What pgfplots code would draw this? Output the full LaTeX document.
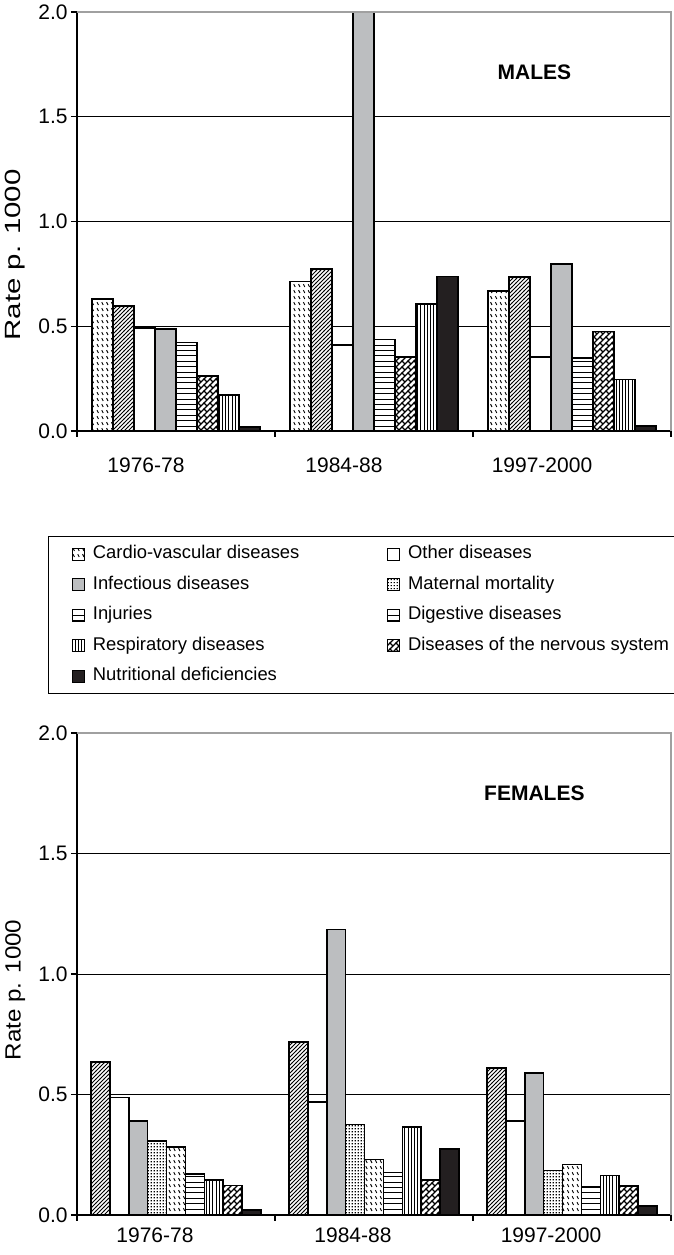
\documentclass[border=0pt]{standalone}
\usepackage{fontspec}
\setmainfont{Liberation Sans}
\usepackage{pgfplots}
\pgfplotsset{compat=1.18}
\usetikzlibrary{patterns}

\definecolor{infgrey}{RGB}{188,190,192}
\definecolor{nutblack}{RGB}{35,31,32}
\definecolor{framegrey}{RGB}{160,160,160}

% fill patterns of the bars
\pgfdeclarepatternformonly{cardiodash}{\pgfqpoint{-0.5pt}{-0.5pt}}{\pgfqpoint{3pt}{3.5pt}}{\pgfqpoint{2.4pt}{3pt}}{%
  \pgfsetlinewidth{0.45pt}%
  \pgfpathmoveto{\pgfqpoint{0.5pt}{2.4pt}}\pgfpathlineto{\pgfqpoint{1.2pt}{1.0pt}}%
  \pgfusepath{stroke}}
\pgfdeclarepatternformonly{hatchne}{\pgfqpoint{-1pt}{-1pt}}{\pgfqpoint{3pt}{3pt}}{\pgfqpoint{2pt}{2pt}}{%
  \pgfsetlinewidth{0.42pt}%
  \pgfpathmoveto{\pgfqpoint{-0.1pt}{-0.1pt}}\pgfpathlineto{\pgfqpoint{2.1pt}{2.1pt}}%
  \pgfusepath{stroke}}
\pgfdeclarepatternformonly{hlines}{\pgfqpoint{-1pt}{-1pt}}{\pgfqpoint{4pt}{4pt}}{\pgfqpoint{2.7pt}{2.7pt}}{%
  \pgfsetlinewidth{0.5pt}%
  \pgfpathmoveto{\pgfqpoint{-0.1pt}{1.35pt}}\pgfpathlineto{\pgfqpoint{2.8pt}{1.35pt}}%
  \pgfusepath{stroke}}
\pgfdeclarepatternformonly{vlines}{\pgfqpoint{-1pt}{-1pt}}{\pgfqpoint{3pt}{3pt}}{\pgfqpoint{1.6pt}{1.6pt}}{%
  \pgfsetlinewidth{0.4pt}%
  \pgfpathmoveto{\pgfqpoint{0.8pt}{-0.1pt}}\pgfpathlineto{\pgfqpoint{0.8pt}{1.7pt}}%
  \pgfusepath{stroke}}
\pgfdeclarepatternformonly{gridots}{\pgfqpoint{0pt}{0pt}}{\pgfqpoint{1.6pt}{1.6pt}}{\pgfqpoint{1.6pt}{1.6pt}}{%
  \pgfpathrectangle{\pgfqpoint{0.45pt}{0.45pt}}{\pgfqpoint{0.7pt}{0.7pt}}%
  \pgfusepath{fill}}
\pgfdeclarepatternformonly{brick}{\pgfqpoint{-1pt}{-1pt}}{\pgfqpoint{4pt}{4pt}}{\pgfqpoint{3pt}{3pt}}{%
  \pgfsetlinewidth{0.7pt}%
  \pgfpathmoveto{\pgfqpoint{-0.1pt}{-0.1pt}}\pgfpathlineto{\pgfqpoint{3.1pt}{3.1pt}}%
  \pgfpathmoveto{\pgfqpoint{-0.1pt}{3.1pt}}\pgfpathlineto{\pgfqpoint{1.2pt}{1.8pt}}%
  \pgfusepath{stroke}}

\pgfplotsset{
  st-cardio/.style={fill=white, postaction={pattern=cardiodash}},
  st-injur/.style={fill=white, postaction={pattern=hatchne}},
  st-other/.style={fill=white},
  st-infect/.style={fill=infgrey},
  st-matern/.style={fill=white, postaction={pattern=gridots}},
  st-digest/.style={fill=white, postaction={pattern=hlines}},
  st-respir/.style={fill=white, postaction={pattern=vlines}},
  st-nerv/.style={fill=white, postaction={pattern=brick}},
  st-nutri/.style={fill=nutblack},
  rateaxis/.style={
    scale only axis, width=297pt,
    xmin=-0.5, xmax=2.5,
    ymin=0, ymax=2,
    ybar=0pt, clip=false,
    axis x line*=bottom, axis y line*=left,
    axis line style={line width=0.7pt, black},
    tick align=outside,
    major tick length=3pt,
    tick style={black, line width=0.6pt},
    xtick={-0.5,0.5,1.5,2.5}, xticklabels={,,,},
    extra x ticks={0,1,2},
    extra x tick labels={1976-78,1984-88,1997-2000},
    ytick={0,0.5,1,1.5,2},
    ymajorgrids, grid style={black, line width=0.5pt},
    yticklabel style={inner xsep=1.5pt, /pgf/number format/.cd, fixed, fixed zerofill, precision=1},
    /pgf/number format/assume math mode=true,
    tick label style={font=\fontsize{10.5}{12}\selectfont},
    label style={font=\fontsize{10.5}{12}\selectfont},
    every axis plot/.append style={draw=black, line width=0.8pt},
    after end axis/.code={
      \draw[framegrey, line width=0.7pt] (rel axis cs:0,1) -- (rel axis cs:1,1) -- (rel axis cs:1,0);
    },
  },
}

\begin{document}
\begin{tikzpicture}

% MALES
\begin{axis}[
    rateaxis,
    at={(38.5pt,412pt)}, anchor=south west,
    height=209.5pt,
    bar width=10.5pt,
    extra x tick style={tick style={draw=none}, xticklabel style={xshift=-15pt, yshift=-7pt}},
    ylabel={\scalebox{1.4}[1.05]{Rate p. 1000}},
    ylabel style={at={(axis description cs:-0.104,0.42)}, anchor=center},
  ]
  % Cardio-vascular
  \addplot[st-cardio] coordinates {(0,0.630) (1,0.713) (2,0.667)};
  % Injuries
  \addplot[st-injur] coordinates {(0,0.598) (1,0.772) (2,0.734)};
  % Other
  \addplot[st-other] coordinates {(0,0.493) (1,0.410) (2,0.353)};
  % Infectious
  \addplot[st-infect] coordinates {(0,0.488) (1,2.000) (2,0.796)};
  % Digestive
  \addplot[st-digest] coordinates {(0,0.423) (1,0.436) (2,0.347)};
  % Nervous system
  \addplot[st-nerv] coordinates {(0,0.263) (1,0.352) (2,0.474)};
  % Respiratory
  \addplot[st-respir] coordinates {(0,0.173) (1,0.605) (2,0.245)};
  % Nutritional
  \addplot[st-nutri] coordinates {(0,0.020) (1,0.738) (2,0.025)};
  \node[font=\bfseries\fontsize{10.5}{12}\selectfont] at (axis cs:1.81,1.71) {MALES};
\end{axis}

% FEMALES
\begin{axis}[
    rateaxis,
    at={(38.5pt,20pt)}, anchor=south west,
    height=241pt,
    bar width=9.45pt,
    extra x tick style={tick style={draw=none}, xticklabel style={xshift=-10.5pt, yshift=0pt}},
    ylabel={\scalebox{1.15}[1.05]{Rate p. 1000}},
    ylabel style={at={(axis description cs:-0.104,0.467)}, anchor=center},
  ]
  \addplot[st-injur] coordinates {(0,0.634) (1,0.717) (2,0.611)};
  \addplot[st-other] coordinates {(0,0.488) (1,0.470) (2,0.391)};
  \addplot[st-infect] coordinates {(0,0.391) (1,1.185) (2,0.588)};
  \addplot[st-matern] coordinates {(0,0.308) (1,0.375) (2,0.185)};
  \addplot[st-cardio] coordinates {(0,0.281) (1,0.231) (2,0.209)};
  \addplot[st-digest] coordinates {(0,0.169) (1,0.177) (2,0.119)};
  \addplot[st-respir] coordinates {(0,0.145) (1,0.365) (2,0.164)};
  \addplot[st-nerv] coordinates {(0,0.123) (1,0.144) (2,0.120)};
  \addplot[st-nutri] coordinates {(0,0.021) (1,0.275) (2,0.037)};
  \node[font=\bfseries\fontsize{10.5}{12}\selectfont] at (axis cs:1.81,1.75) {FEMALES};
\end{axis}

% shared legend
\begin{axis}[
    hide axis, scale only axis,
    width=10pt, height=10pt,
    xmin=0, xmax=1, ymin=0, ymax=1,
    at={(24pt,359.5pt)}, anchor=south west,
    legend columns=2,
    legend image code/.code={\draw[#1, line width=0.6pt] (0pt,-3pt) rectangle (6pt,3pt);},
    legend style={
      at={(0,0)}, anchor=north west,
      draw=black, line width=0.7pt,
      inner xsep=11.5pt, inner ysep=4.5pt,
      row sep=6.75pt, column sep=0pt,
      cells={anchor=west},
      nodes={inner xsep=4pt, inner ysep=0pt, text height=6.5pt, text depth=2pt},
      font=\fontsize{9.2}{11}\selectfont,
    },
  ]
  \addlegendimage{st-cardio}
  \addlegendentry{\makebox[143pt][l]{Cardio-vascular diseases}}
  \addlegendimage{st-other}
  \addlegendentry{\makebox[143pt][l]{Other diseases}}
  \addlegendimage{st-infect}
  \addlegendentry{\makebox[143pt][l]{Infectious diseases}}
  \addlegendimage{st-matern}
  \addlegendentry{\makebox[143pt][l]{Maternal mortality}}
  \addlegendimage{st-digest}
  \addlegendentry{\makebox[143pt][l]{Injuries}}
  \addlegendimage{st-digest}
  \addlegendentry{\makebox[143pt][l]{Digestive diseases}}
  \addlegendimage{st-respir}
  \addlegendentry{\makebox[143pt][l]{Respiratory diseases}}
  \addlegendimage{st-nerv}
  \addlegendentry{\makebox[143pt][l]{Diseases of the nervous system}}
  \addlegendimage{st-nutri}
  \addlegendentry{\makebox[143pt][l]{Nutritional deficiencies}}
\end{axis}

\pgfresetboundingbox
\path[use as bounding box] (0,0) rectangle (337pt,627.5pt);
\end{tikzpicture}
\end{document}
